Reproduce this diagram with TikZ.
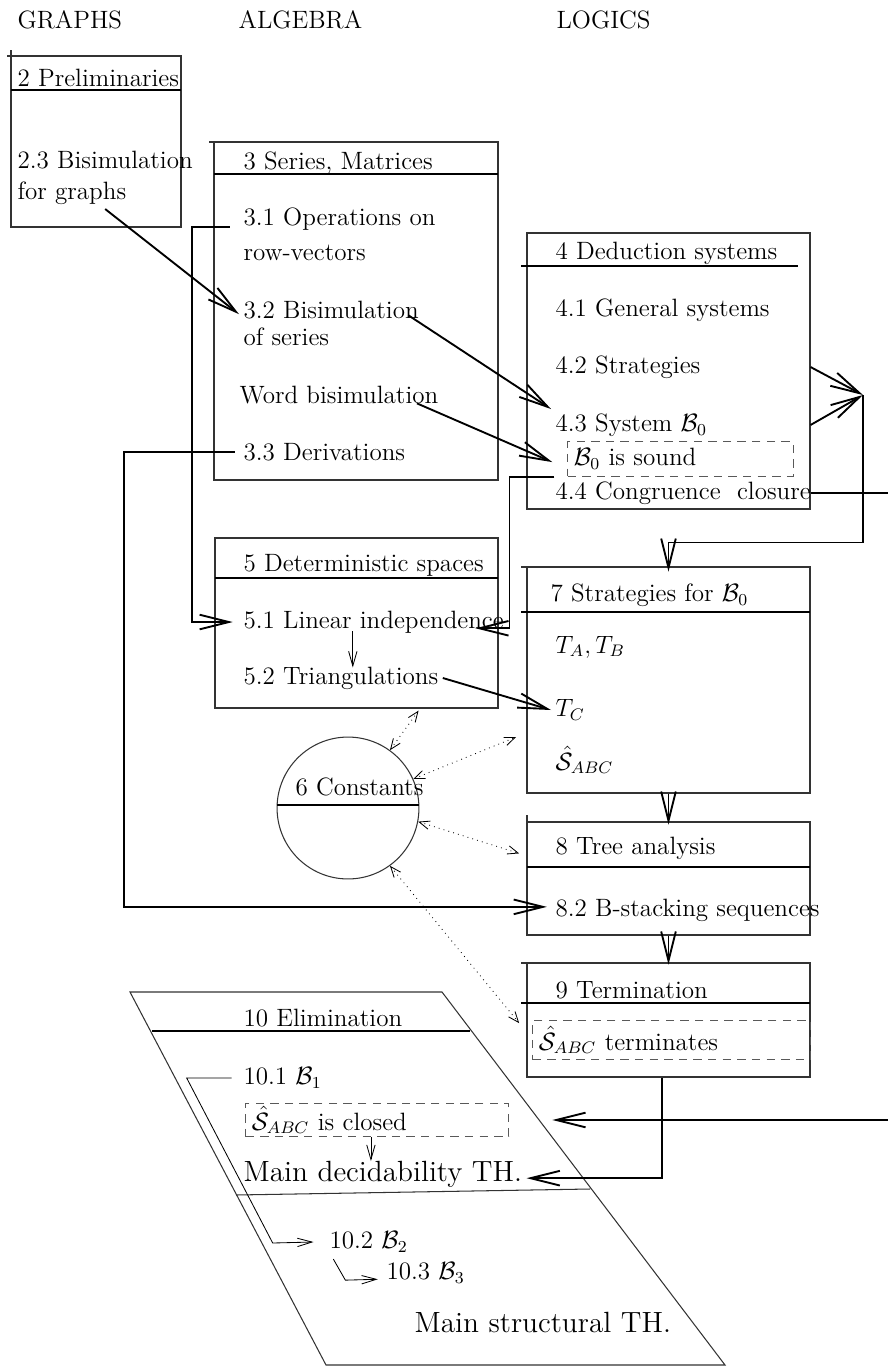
\documentclass[tikz,border=0pt,12pt]{standalone}
\usepackage{amsmath}
\usepackage{amssymb}
\usepackage{tikz}
\usetikzlibrary{arrows.meta}
\usetikzlibrary{fit}

\begin{document}
\begin{tikzpicture}[x=0.4785pt,y=-0.4785pt,
    box/.style={draw=black!80,line width=0.5pt},
    hline/.style={line width=1pt},
    txt/.style={anchor=west,inner sep=2pt},
    big/.style={font=\fontsize{14}{17}\selectfont},
    dashbox/.style={draw=black!65,dash pattern=on 4pt off 3pt,line width=0.5pt,anchor=west,align=left,inner xsep=3pt,inner ysep=0pt},
    conn/.style={line width=0.9pt,-{Straight Barb[length=14pt,width=7pt]}},
    thinarr/.style={line width=0.4pt,-{Straight Barb[length=7pt,width=4pt]}},
    dots/.style={line width=0.4pt,dotted,{Straight Barb[length=5pt,width=4pt]}-{Straight Barb[length=5pt,width=4pt]}}]
    \useasboundingbox (0,0) rectangle (888,1366);
    \clip (0,0) rectangle (888,1366);
    % Column titles
    \node[txt] (hg) at (13,20) {GRAPHS};
    \node[txt] (ha) at (234,20) {ALGEBRA};
    \node[txt] (hl) at (552,20) {LOGICS};
    % Chapter frames
    \node[box,fit={(11,56) (181,227)},inner sep=0pt] (b2) {};
    \node[box,fit={(214,142) (498,480)},inner sep=0pt] (b3) {};
    \node[box,fit={(527,233) (810,509)},inner sep=0pt] (b4) {};
    \node[box,fit={(215,538) (498,708)},inner sep=0pt] (b5) {};
    \node[box,circle,minimum size=67.9pt,inner sep=0pt] (c6) at (348,808) {};
    \node[box,fit={(527,567) (810,793)},inner sep=0pt] (b7) {};
    \node[box,fit={(527,822) (810,935)},inner sep=0pt] (b8) {};
    \node[box,fit={(527,963) (810,1077)},inner sep=0pt] (b9) {};
    \draw[box] (130,992) -- (442,992) -- (725,1365) -- (326,1365) -- cycle;
    \draw[box] (236,1195) -- (590,1189);
    % Corner ticks
    \draw[box] (7,56) -- (11,56) -- (11,50);
    \draw[box] (209,142) -- (214,142);
    \draw[box] (521,567) -- (527,567);
    \draw[box] (527,815) -- (527,822);
    \draw[box] (521,963) -- (527,963);
    % Title rules
    \foreach \a/\b/\y in {11/181/90, 214/498/174, 521/798/266, 215/498/578, 521/810/612, 527/810/867, 521/810/1003, 152/470/1031}
        \draw[hline] (\a,\y) -- (\b,\y);
    \draw[line width=0.7pt] ([yshift=1.5pt]c6.west) -- ([yshift=1.5pt]c6.east);
    % Section titles
    \node[txt] (pre2) at (13,78) {2 Preliminaries};
    \node[txt,align=left] (bis23) at (13,178) {2.3 Bisimulation\\for graphs};
    \node[txt] (ser3) at (239,163) {3 Series, Matrices};
    \node[txt] (op31) at (239,219) {3.1 Operations on};
    \node[txt] (row31) at (239,253) {row-vectors};
    \node[txt] (bis32) at (239,310) {3.2 Bisimulation};
    \node[txt] (of32) at (239,337) {of series};
    \node[txt] (word) at (235,395) {Word bisimulation};
    \node[txt] (der33) at (239,452) {3.3 Derivations};
    \node[txt] (ded4) at (551,253) {4 Deduction systems};
    \node[txt] (gen41) at (551,310) {4.1 General systems};
    \node[txt] (str42) at (551,367) {4.2 Strategies};
    \node[txt] (sys43) at (551,425) {4.3 System $\mathcal{B}_0$};
    \node[dashbox,text width=102pt,minimum height=16.3pt] (sound) at (567,459) {$\mathcal{B}_0$ is sound};
    \node[txt] (clos44) at (551,493) {4.4 Congruence~~closure};
    \node[txt] (det5) at (239,565) {5 Deterministic spaces};
    \node[txt] (lin51) at (239,622) {5.1 Linear independence};
    \node[txt] (tri52) at (239,678) {5.2 Triangulations};
    \node[txt] (const6) at (291,787) {6 Constants};
    \node[txt] (str7) at (546,595) {7 Strategies for $\mathcal{B}_0$};
    \node[txt] (tab) at (551,647) {$T_A, T_B$};
    \node[txt] (tc) at (551,710) {$T_C$};
    \node[txt] (sabc) at (551,760) {$\hat{\mathcal{S}}_{ABC}$};
    \node[txt] (tree8) at (551,848) {8 Tree analysis};
    \node[txt] (stack82) at (551,910) {8.2 B-stacking sequences};
    \node[txt] (term9) at (551,990) {9 Termination};
    \node[dashbox,text width=127pt,minimum height=18.7pt] (terminates) at (532,1040) {$\hat{\mathcal{S}}_{ABC}$ terminates};
    \node[txt] (elim10) at (239,1018) {10 Elimination};
    \node[txt] (e1) at (239,1078) {10.1 $\mathcal{B}_1$};
    \node[dashbox,text width=120pt,minimum height=15.8pt] (closed) at (245,1120) {$\hat{\mathcal{S}}_{ABC}$ is closed};
    \node[txt,big] (maindec) at (239,1174) {Main decidability TH.};
    \node[txt] (e2) at (325,1242) {10.2 $\mathcal{B}_2$};
    \node[txt] (e3) at (382,1273) {10.3 $\mathcal{B}_3$};
    \node[txt,big] (mainstr) at (410,1322) {Main structural TH.};
    % Dependencies
    \draw[conn] (bis23.south) -- ([yshift=-2pt]bis32.west);
    \draw[conn] ([xshift=-7.2pt,yshift=-2.5pt]bis32.east) -- (sys43.north west);
    \draw[conn] ([xshift=-12.4pt,yshift=-4pt]word.east) -- ([xshift=-7pt,yshift=-1.5pt]sound.west);
    \draw[conn] ([xshift=-4.5pt,yshift=-4pt]op31.west) -- ++(-38,0) |- ([xshift=-3pt]lin51.west);
    \draw[conn] ([xshift=-2pt]der33.west) -- ++(-111,0) |- ([xshift=-2pt,yshift=1.5pt]stack82.west);
    \coordinate (j) at (863,395);
    \draw[conn] (b4.east |- str42) -- (j);
    \draw[conn] (b4.east |- sys43) -- (j);
    \draw[conn] (j) |- ([yshift=11.5pt]b7.north) -- ([yshift=-2.5pt]b7.north);
    \draw[conn] ([xshift=-6pt]sound.south west) -- ++(-45,0) |- ([xshift=-15.8pt,yshift=-3pt]lin51.east);
    \draw[thinarr] ([xshift=-10pt,yshift=3pt]lin51.south) -- ++(0,36);
    \draw[conn] (tri52.east) -- (tc.west);
    \draw[conn] (b7.south) -- ([yshift=-1.5pt]b8.north);
    \draw[conn] (b8.south) -- ([yshift=-1pt]b9.north);
    \draw[conn] (b4.east |- clos44) -- ++(100,0) |- ([xshift=20.6pt]closed.east);
    \draw[conn] ([xshift=-3pt]b9.south) |- ([yshift=-2pt]maindec.east);
    % Uses of the constants
    \draw[dots] (c6.54) -- ([xshift=29.7pt,yshift=-1pt]b5.south);
    \draw[dots] (c6.24) -- ([xshift=-5pt,yshift=-27.3pt]b7.west);
    \draw[dots] (c6.-11) -- ([xshift=-3.5pt,yshift=12pt]b8.west);
    \draw[dots] (c6.-54) -- ([xshift=-3.5pt,yshift=-1.5pt]b9.west);
    % Inside the elimination chapter
    \draw[thinarr] ([xshift=-3pt]closed.south) -- ++(0,24);
    \draw[thinarr] ([xshift=-3.5pt]e1.west) -- ++(-45,0) -- ++(86,165) -- ([xshift=-5.5pt]e2.west);
    \draw[thinarr] ([xshift=4pt,yshift=-1pt]e2.south west) -- ++(12,21) -- ([xshift=-2pt,yshift=-3pt]e3.west);
\end{tikzpicture}
\end{document}
